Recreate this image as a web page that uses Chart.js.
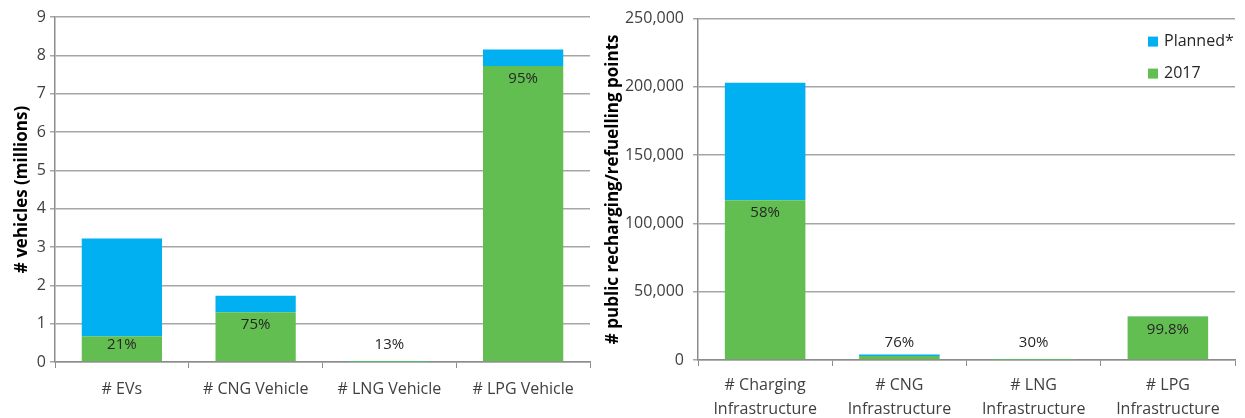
<!DOCTYPE html>
<html lang="en">
<head>
    <meta charset="UTF-8">
    <title>Vehicles and infrastructure</title>
    <style>
        body {
            margin: 0;
            background-color: #fff;
            width: 1245px;
            height: 418px;
            overflow: hidden;
        }
        .panel {
            position: absolute;
            top: 0;
            height: 418px;
        }
        #left-panel { left: 0; width: 600px; }
        #right-panel { left: 600px; width: 645px; }
    </style>
    <script src="https://cdn.jsdelivr.net/npm/chart.js"></script>
</head>
<body>
    <div class="panel" id="left-panel"><canvas id="vehicles"></canvas></div>
    <div class="panel" id="right-panel"><canvas id="infra"></canvas></div>

    <script>
        // left chart: vehicles (millions)
        const vehicleCategories = ['# EVs', '# CNG Vehicle', '# LNG Vehicle', '# LPG Vehicle'];
        const vehicles2017 = [0.67, 1.30, 0.002, 7.72];
        const vehiclesPlanned = [2.55, 0.43, 0.013, 0.43];
        const vehiclePct = ['21%', '75%', '13%', '95%'];
        const vehicleTicks = [0, 1, 2, 3, 4, 5, 6, 7, 8, 9];

        // right chart: public recharging / refuelling points
        const infraCategories = [['# Charging', 'Infrastructure'], ['# CNG', 'Infrastructure'], ['# LNG', 'Infrastructure'], ['# LPG', 'Infrastructure']];
        const infra2017 = [117000, 3000, 60, 31900];
        const infraPlanned = [86000, 950, 140, 70];
        const infraPct = ['58%', '76%', '30%', '99.8%'];
        const infraTicks = [0, 50000, 100000, 150000, 200000, 250000];

        const BLUE = '#00b0f0';
        const GREEN = '#63be52';
        const AXIS = '#8c8c8c';
        const GRID = '#a6a6a6';
        const TEXT = '#404040';
        const FONT = "'Open Sans', 'Noto Sans', sans-serif";

        Chart.defaults.font.family = FONT;
        Chart.defaults.color = TEXT;

        // percentage labels at the top of the 2017 bar
        const pctPlugin = {
            id: 'pctLabels',
            afterDatasetsDraw(chart, args, opts) {
                const ctx = chart.ctx;
                const meta = chart.getDatasetMeta(0);
                ctx.save();
                ctx.font = '15px ' + FONT;
                ctx.fillStyle = '#262626';
                ctx.textAlign = 'center';
                ctx.textBaseline = 'middle';
                meta.data.forEach((bar, i) => {
                    const y = Math.min(bar.y + 13, bar.base - 17);
                    ctx.fillText(opts.labels[i], bar.x, y);
                });
                ctx.restore();
            }
        };

        // legend inside the plot, top right
        const legendPlugin = {
            id: 'boxLegend',
            afterDraw(chart, args, opts) {
                if (!opts.show) return;
                const ctx = chart.ctx;
                const area = chart.chartArea;
                const items = chart.data.datasets.slice().reverse();
                ctx.save();
                ctx.font = '16px ' + FONT;
                ctx.textBaseline = 'middle';
                ctx.textAlign = 'left';
                items.forEach((ds, i) => {
                    const x = area.right - 87;
                    const y = area.top + 18 + i * 32;
                    ctx.fillStyle = ds.backgroundColor;
                    ctx.fillRect(x, y, 10, 10);
                    ctx.fillStyle = '#262626';
                    ctx.fillText(ds.label, x + 16, y + 5);
                });
                ctx.restore();
            }
        };

        function makeChart(id, labels, base, planned, pct, ticks, opt) {
            const ctx = document.getElementById(id).getContext('2d');
            return new Chart(ctx, {
                type: 'bar',
                data: {
                    labels: labels,
                    datasets: [{
                        label: '2017',
                        data: base,
                        backgroundColor: GREEN,
                        borderWidth: 0
                    }, {
                        label: 'Planned*',
                        data: planned,
                        backgroundColor: BLUE,
                        borderWidth: 0
                    }]
                },
                plugins: [pctPlugin, legendPlugin],
                options: {
                    responsive: true,
                    maintainAspectRatio: false,
                    animation: false,
                    datasets: {
                        bar: { categoryPercentage: 1, barPercentage: 0.6 }
                    },
                    layout: { padding: { top: 17, right: 10, left: 0, bottom: 0 } },
                    plugins: {
                        legend: { display: false },
                        tooltip: { enabled: false },
                        pctLabels: { labels: pct },
                        boxLegend: { show: opt.legend }
                    },
                    scales: {
                        x: {
                            stacked: true,
                            afterFit: s => { s.height = opt.xHeight; },
                            border: { color: AXIS, width: 1.5 },
                            grid: {
                                offset: true,
                                drawOnChartArea: false,
                                tickLength: 6,
                                color: AXIS
                            },
                            ticks: {
                                padding: opt.xPad,
                                maxRotation: 0,
                                color: TEXT,
                                font: { size: 16, lineHeight: 1.5 }
                            }
                        },
                        y: {
                            stacked: true,
                            min: ticks[0],
                            max: ticks[ticks.length - 1],
                            afterFit: s => { s.width = opt.yWidth; },
                            afterBuildTicks: s => { s.ticks = ticks.map(v => ({ value: v })); },
                            border: { color: AXIS, width: 1.5 },
                            grid: { color: GRID, lineWidth: 1.5, tickLength: 5 },
                            ticks: {
                                padding: opt.yPad,
                                color: TEXT,
                                font: { size: 16 },
                                callback: v => v.toLocaleString('en-US')
                            },
                            title: {
                                display: true,
                                text: opt.title,
                                color: '#000',
                                padding: { top: opt.titlePad, bottom: 0 },
                                font: { size: 17, weight: 'bold' }
                            }
                        }
                    }
                }
            });
        }

        makeChart('vehicles', vehicleCategories, vehicles2017, vehiclesPlanned, vehiclePct, vehicleTicks, {
            xHeight: 56, yWidth: 55, xPad: 9, yPad: 4, titlePad: 12,
            title: '# vehicles (millions)', legend: false
        });

        makeChart('infra', infraCategories, infra2017, infraPlanned, infraPct, infraTicks, {
            xHeight: 58, yWidth: 98, xPad: 7, yPad: 9, titlePad: 3,
            title: '# public recharging/refuelling points', legend: true
        });
    </script>
</body>
</html>
